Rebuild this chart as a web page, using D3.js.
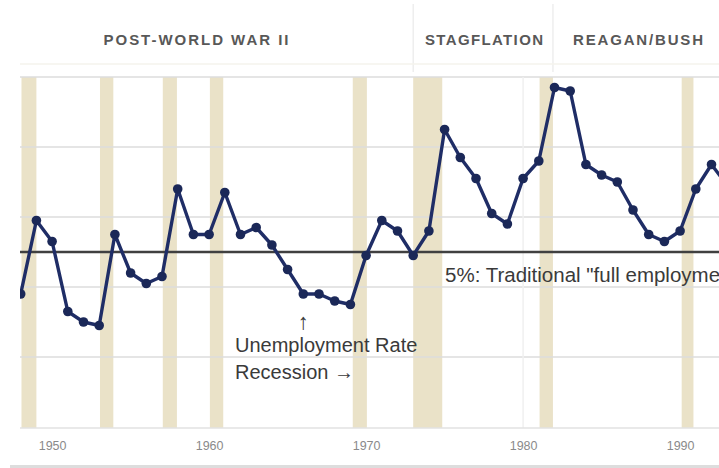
<!DOCTYPE html>
<html>
<head>
<meta charset="utf-8">
<script src="https://cdn.jsdelivr.net/npm/d3@7"></script>
<style>
  html, body { margin: 0; padding: 0; background: #fff; }
  svg { display: block; }
</style>
</head>
<body>
<svg id="chart" width="719" height="468"></svg>
<script>
// ---- data ----
const years = [1948,1949,1950,1951,1952,1953,1954,1955,1956,1957,1958,1959,1960,1961,1962,1963,1964,1965,1966,1967,1968,1969,1970,1971,1972,1973,1974,1975,1976,1977,1978,1979,1980,1981,1982,1983,1984,1985,1986,1987,1988,1989,1990,1991,1992,1993];
const unemployment = [3.8,5.9,5.3,3.3,3.0,2.9,5.5,4.4,4.1,4.3,6.8,5.5,5.5,6.7,5.5,5.7,5.2,4.5,3.8,3.8,3.6,3.5,4.9,5.9,5.6,4.9,5.6,8.5,7.7,7.1,6.1,5.8,7.1,7.6,9.7,9.6,7.5,7.2,7.0,6.2,5.5,5.3,5.6,6.8,7.5,6.9];
const recessionStart = [1948.05,1953.05,1957.05,1960.05,1969.15,1973.0,1981.05,1990.1];
const recessionEnd   = [1949.0, 1953.9, 1957.95,1960.9, 1970.05,1974.85,1981.9,1990.85];
const eraLabels = ["POST-WORLD WAR II","STAGFLATION","REAGAN/BUSH"];
const eraStart = [1948, 1973, 1981.9];
const tickYears = [1950,1960,1970,1980,1990];
const gridValues = [2,4,6,8,10];
const fullEmployment = 5;

// ---- layout ----
const svg = d3.select("#chart");
const W = 719, H = 468;
const x = d3.scaleLinear().domain([1948, 1992]).range([20.7, 711.5]);
const y = d3.scaleLinear().domain([0, 10]).range([427, 77]);
const plotLeft = 20, plotRight = W, plotTop = 77, plotBottom = 428;

svg.append("defs").append("clipPath").attr("id","plotclip")
  .append("rect").attr("x", plotLeft).attr("y", 70).attr("width", plotRight-plotLeft).attr("height", plotBottom-70);

// recession bands
const bands = recessionStart.map((s,i)=>({s, e: recessionEnd[i]}));
svg.append("g").attr("clip-path","url(#plotclip)")
  .selectAll("rect").data(bands).join("rect")
  .attr("x", d=>x(d.s)).attr("width", d=>x(d.e)-x(d.s))
  .attr("y", plotTop).attr("height", plotBottom-plotTop)
  .attr("fill", "#eae2c8");

// horizontal gridlines
svg.append("g").selectAll("line").data(gridValues).join("line")
  .attr("x1", plotLeft).attr("x2", plotRight)
  .attr("y1", d=>y(d)).attr("y2", d=>y(d))
  .attr("stroke", "#dddddd").attr("stroke-width", 1.5);

// faint vertical separator inside plot
svg.append("line").attr("x1", x(1980)).attr("x2", x(1980)).attr("y1", plotTop).attr("y2", plotBottom)
  .attr("stroke","#f0f0f0").attr("stroke-width",1.5);

// plot bottom line
svg.append("line").attr("x1", plotLeft).attr("x2", plotRight).attr("y1", plotBottom).attr("y2", plotBottom)
  .attr("stroke", "#e2e2e2").attr("stroke-width", 1.5);

// 5% line
svg.append("line").attr("x1", plotLeft).attr("x2", plotRight)
  .attr("y1", y(fullEmployment)).attr("y2", y(fullEmployment))
  .attr("stroke", "#404040").attr("stroke-width", 2.4);

// header separators
eraStart.slice(1).forEach(v=>{
  svg.append("line").attr("x1", x(v)).attr("x2", x(v)).attr("y1", 4).attr("y2", 72)
    .attr("stroke","#eeeeee").attr("stroke-width",1.5);
});
svg.append("line").attr("x1", plotLeft).attr("x2", plotRight).attr("y1", 64).attr("y2", 64)
  .attr("stroke","#f5f3ec").attr("stroke-width",1.5);

// header labels
const eraCenters = [196, 484, 638];
const eraWidths = [185, 118, 130];
svg.append("g").selectAll("text").data(eraLabels).join("text")
  .attr("x", (d,i)=>eraCenters[i]).attr("y", 45)
  .attr("text-anchor","middle")
  .attr("font-family","'Liberation Sans', Arial, sans-serif")
  .attr("font-weight","bold")
  .attr("font-size", 15)
  .attr("textLength", (d,i)=>eraWidths[i])
  .attr("lengthAdjust","spacing")
  .attr("fill","#585858")
  .text(d=>d);

// series
const data = years.map((yr,i)=>({yr, v: unemployment[i]}));
const g = svg.append("g").attr("clip-path","url(#plotclip)");
g.append("path").datum(data)
  .attr("fill","none").attr("stroke","#1f2d66").attr("stroke-width",3.4)
  .attr("stroke-linejoin","round")
  .attr("d", d3.line().x(d=>x(d.yr)).y(d=>y(d.v)));
g.selectAll("circle").data(data).join("circle")
  .attr("cx", d=>x(d.yr)).attr("cy", d=>y(d.v)).attr("r", 4.8)
  .attr("fill","#1b2858");

// x axis tick labels
const xAxis = d3.axisBottom(x).tickValues(tickYears).tickSize(0).tickPadding(0).tickFormat(d3.format("d"));
const ax = svg.append("g").attr("transform", `translate(0, ${plotBottom + 13})`).call(xAxis);
ax.select(".domain").remove();
ax.selectAll("text")
  .attr("font-family","'Liberation Sans', Arial, sans-serif")
  .attr("font-size", 12.5).attr("fill","#8a8a8a").attr("dy","0.71em");

// bottom bar
svg.append("rect").attr("x", 10).attr("y", 465).attr("width", W-10).attr("height", 3).attr("fill","#dddddd");

// annotations
const ann = svg.append("g").attr("font-family","'Liberation Sans', Arial, sans-serif").attr("font-size",20).attr("fill","#3a3a3a");
ann.append("text").attr("x", 445).attr("y", 282).attr("font-size",20.5).text("5%: Traditional \"full employment\"");
ann.append("text").attr("x", 235).attr("y", 352).text("Unemployment Rate");
ann.append("text").attr("x", 235).attr("y", 379).text("Recession \u2192");
ann.append("text").attr("x", x(1966)).attr("y", 329).attr("text-anchor","middle").attr("font-size",22).text("\u2191");
</script>
</body>
</html>
